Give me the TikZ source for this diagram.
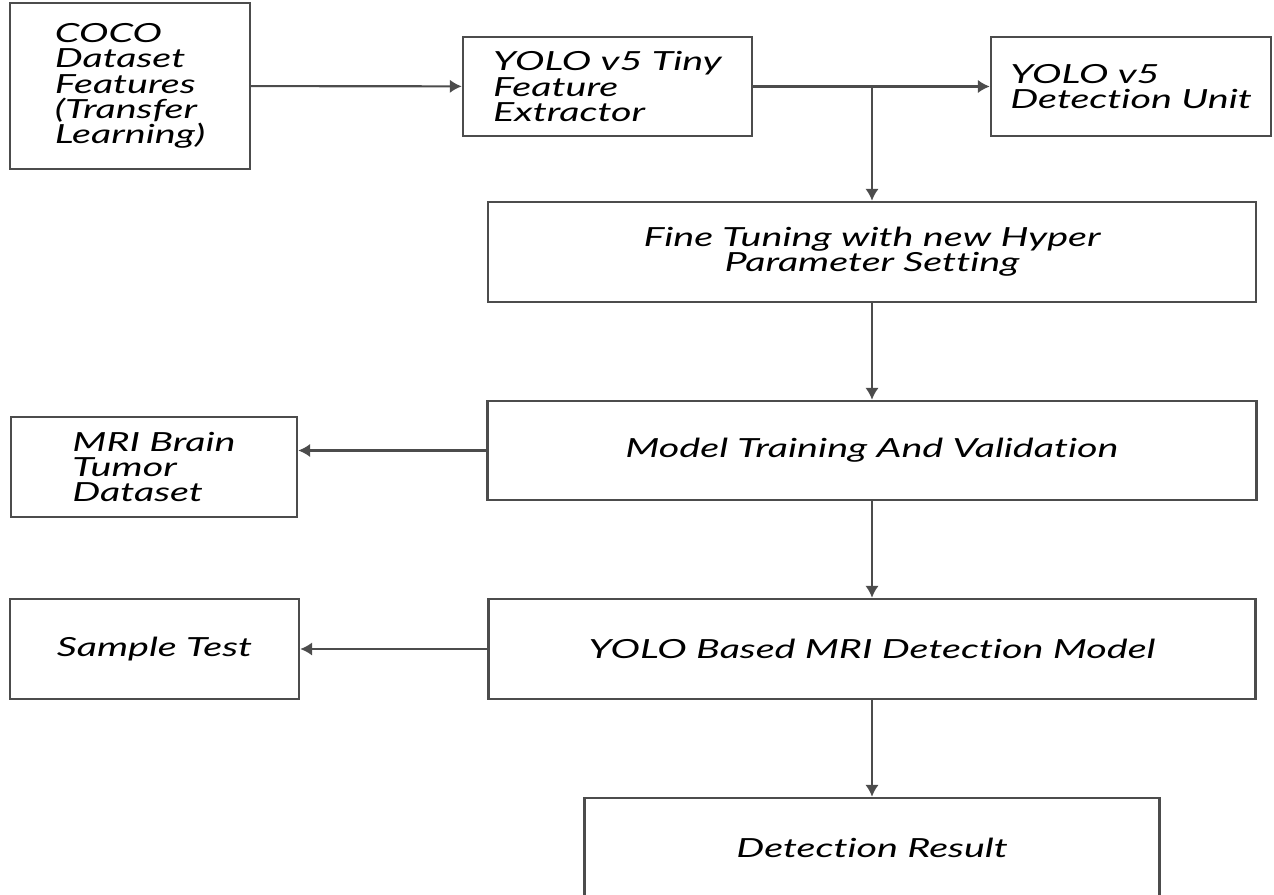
\documentclass[tikz,border=0pt]{standalone}
\usepackage{fontspec}
\setmainfont{Lato}[FakeStretch=1.5,Ligatures=NoCommon]
\usetikzlibrary{arrows.meta}

\begin{document}
\begin{tikzpicture}[>={Latex[length=2.4mm,width=2.7mm]},x=0.02cm,y=-0.02cm,
	box/.style={draw=black!70,line width=1.4pt,align=left,inner sep=0pt,
		font=\itshape\fontsize{15}{14.4}\selectfont},
	boxsize/.style 2 args={minimum width={#1*0.02cm},minimum height={#2*0.02cm}},
	flow/.style={->,draw=black!70,line width=1.2pt}]

\useasboundingbox (0,0) rectangle (1274,895);
\clip (0,0) rectangle (1274,895);

\node[box,boxsize={240}{166}] (coco) at (130,86) {COCO\\Dataset\\Features\\(Transfer\\Learning)};
\node[box,boxsize={289}{99}] (tiny) at (607.5,86.5) {YOLO v5 Tiny\\Feature\\Extractor};
\node[box,boxsize={280}{99}] (unit) at (1131,86.5) {YOLO v5\\Detection Unit};
\node[box,align=center,boxsize={768}{100}] (fine) at (872,252) {Fine Tuning with new Hyper\\Parameter Setting};
\node[box,boxsize={769}{99}] (train) at (872,450.5) {Model Training And Validation};
\node[box,boxsize={286}{100}] (mri) at (154,467) {MRI Brain\\Tumor\\Dataset};
\node[box,boxsize={767}{100}] (model) at (872,649) {YOLO Based MRI Detection Model};
\node[box,boxsize={289}{100}] (sample) at (154.5,649) {Sample Test};
\node[box,boxsize={575}{100}] (result) at (872,848) {Detection Result};

\coordinate (split) at (fine.north |- tiny.east);

\draw[flow] (coco) -- (tiny);
\draw[flow] (tiny) -- (unit);
\draw[flow] (split) -- (fine);
\draw[flow] (fine) -- (train);
\draw[flow] (train.west) -- (train.west -| mri.east);
\draw[flow] (train) -- (model);
\draw[flow] (model) -- (sample);
\draw[flow] (model) -- (result);

\end{tikzpicture}
\end{document}
